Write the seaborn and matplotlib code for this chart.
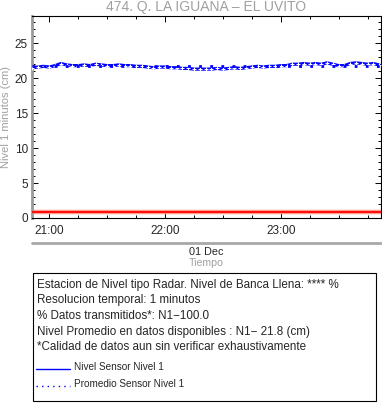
import numpy as np
import pandas as pd
import seaborn as sns
import matplotlib.pyplot as plt
import matplotlib.dates as mdates
from matplotlib.lines import Line2D
from matplotlib.patches import Rectangle
from matplotlib.ticker import MultipleLocator

# nivel cada 3 minutos desde las 20:51 del 01 Dec
start = '2019-12-01 20:51'
nivel = [21.5, 21.6, 21.7, 21.6, 21.8, 22.1, 21.9, 21.8, 21.8, 21.9,
         21.8, 22.0, 21.9, 21.8, 21.8, 21.9, 21.8, 21.8, 21.7, 21.7,
         21.6, 21.5, 21.6, 21.6, 21.5, 21.5, 21.4, 21.4, 21.3, 21.3,
         21.3, 21.3, 21.4, 21.3, 21.4, 21.5, 21.4, 21.5, 21.6, 21.7,
         21.6, 21.7, 21.7, 21.8, 21.8, 22.0, 22.0, 22.1, 22.0, 22.1,
         22.0, 22.2, 22.0, 21.8, 21.8, 22.1, 22.2, 22.1, 22.0, 22.1,
         21.9]
promedio = 21.8
banca = 0.8
titulo = '474. Q. LA IGUANA \u2013 EL UVITO'
info = ['Estacion de Nivel tipo Radar. Nivel de Banca Llena: **** %',
        'Resolucion temporal: 1 minutos',
        '% Datos transmitidos*: N1\u2212100.0',
        'Nivel Promedio en datos disponibles : N1\u2212 21.8 (cm)',
        '*Calidad de datos aun sin verificar exhaustivamente']
leyenda = ['Nivel Sensor Nivel 1', 'Promedio Sensor Nivel 1']

df = pd.DataFrame({'tiempo': pd.date_range(start, periods=len(nivel), freq='3min'),
                   'nivel': nivel})

sns.set_style('ticks')
plt.rcParams['font.family'] = ['Liberation Sans', 'DejaVu Sans']

fig = plt.figure(figsize=(3.82, 4.04), dpi=100)
ax = fig.add_axes([32/382, 1-218/404, 349/382, 202/404])

t0 = df.tiempo.iloc[0]
t1 = pd.Timestamp('2019-12-01 23:52')
ax.axhline(banca, color='#ff9c8c', lw=3.2, zorder=2)
ax.axhline(banca, color='red', lw=1.3, zorder=3)
sns.lineplot(data=df, x='tiempo', y='nivel', ax=ax, color='blue', lw=2.3,
             marker='+', markersize=3, markeredgewidth=0.8, zorder=4)
ax.plot([t0, t1], [promedio, promedio], color='blue', lw=2, ls=(0, (1, 3)), zorder=5)

ax.set_xlim(pd.Timestamp('2019-12-01 20:51'), t1)
ax.set_ylim(0, 28.9)
ax.yaxis.set_major_locator(MultipleLocator(5))
ax.yaxis.set_minor_locator(MultipleLocator(1))
ax.xaxis.set_major_locator(mdates.HourLocator())
ax.xaxis.set_minor_locator(mdates.MinuteLocator(byminute=[0, 15, 30, 45]))
ax.xaxis.set_major_formatter(mdates.DateFormatter('%H:%M'))
ax.tick_params(which='both', direction='in', top=True, right=True, labelsize=8.5,
               color='black', width=0.7)
ax.tick_params(which='major', length=4)
ax.tick_params(which='minor', length=2)
ax.tick_params(axis='x', pad=5)
ax.tick_params(axis='y', pad=3)
ax.set_xlabel('')
ax.set_ylabel('')
for s in ['top', 'bottom', 'right']:
    ax.spines[s].set_linewidth(0.8)
    ax.spines[s].set_color('black')
ax.spines['left'].set_color('#999999')
ax.spines['left'].set_linewidth(2)

gris = '#a0a0a0'
fig.text(206/382, 1-7.5/404, titulo, ha='center', va='center', fontsize=10, color=gris)
fig.text(6/382, 1-117/404, 'Nivel 1 minutos (cm)', rotation=90, ha='center', va='center',
         fontsize=8, color=gris)
fig.add_artist(Line2D([32/382, 381/382], [1-242.5/404]*2, color='#a8a8a8', lw=2))
fig.text(206/382, 1-252/404, '01 Dec', ha='center', va='center', fontsize=7.8)
fig.text(206/382, 1-263/404, 'Tiempo', ha='center', va='center', fontsize=7.6, color=gris)

fig.add_artist(Rectangle((32.5/382, 1-401/404), 343.5/382, 128.5/404, fill=False,
                         edgecolor='black', lw=0.8))
for i, s in enumerate(info):
    fig.text(37/382, 1-(285 + 15.5*i)/404, s, ha='left', va='center', fontsize=8.4)
fig.add_artist(Line2D([36/382, 70/382], [1-369/404]*2, color='blue', lw=1))
fig.add_artist(Line2D([36/382, 70/382], [1-385.5/404]*2, color='blue', lw=1, ls=(0, (1, 3))))
fig.text(74/382, 1-367/404, leyenda[0], ha='left', va='center', fontsize=7.2)
fig.text(74/382, 1-384/404, leyenda[1], ha='left', va='center', fontsize=7.2)

fig.savefig('out.png', dpi=100)
